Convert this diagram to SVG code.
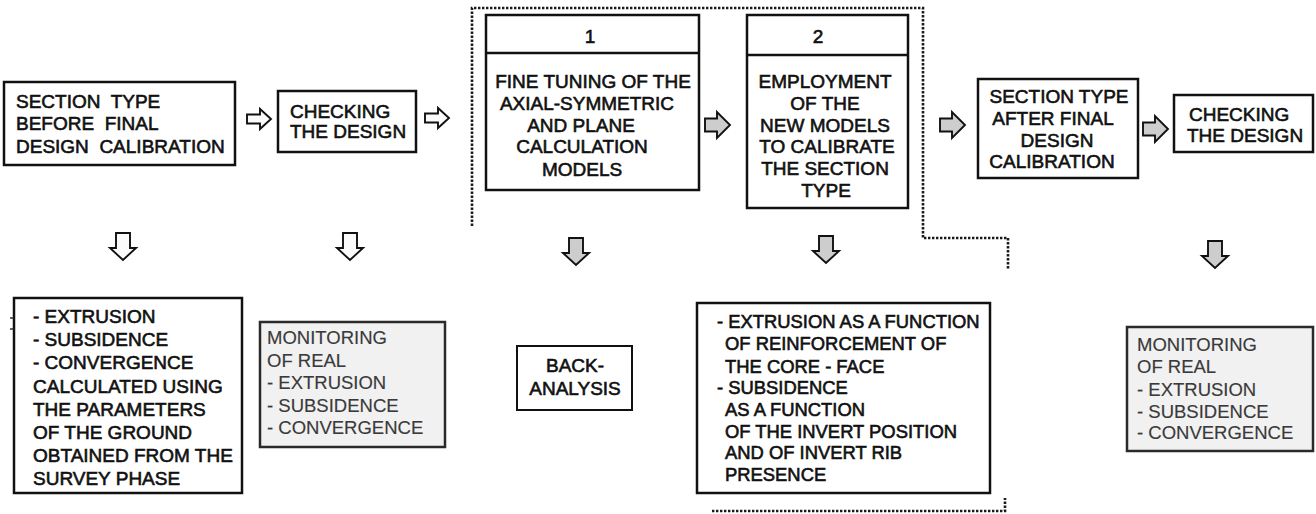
<svg xmlns="http://www.w3.org/2000/svg" xmlns:xlink="http://www.w3.org/1999/xlink" width="1316" height="514" viewBox="0 0 1316 514">
  <style>
    .box { fill: #ffffff; stroke: #111111; stroke-width: 2.5; }
    .mon { fill: #f1f1f1; stroke: #2a2a2a; stroke-width: 2.5; }
    .t { font-family: "Liberation Sans", Arial, Helvetica, sans-serif; font-size: 19px; fill: #111111; stroke: #111111; stroke-width: 0.6; }
    .t18 { font-size: 18.4px; }
    .c { text-anchor: middle; }
    .m { font-family: "Liberation Sans", Arial, Helvetica, sans-serif; font-size: 18.5px; fill: #3a3a3a; stroke: #3a3a3a; stroke-width: 0.15; }
    .dots { fill: none; stroke: #1a1a1a; stroke-width: 2.6; stroke-dasharray: 2.4 1.6; }
    .arr-w { fill: #fbfbfb; stroke: #111111; stroke-width: 1.9; stroke-linejoin: miter; }
    .arr-g { fill: #cdcdcd; stroke: #111111; stroke-width: 1.9; stroke-linejoin: miter; }
  </style>
  <defs>
    <path id="rs" d="M0,-4.5 H13 V-10 L24,0 L13,10 V4.5 H0 Z"/>
    <path id="rl" d="M0,-6.5 H12 V-13 L25,0 L12,13 V6.5 H0 Z"/>
    <path id="dn" d="M-7,0 H7 V15 H13 L0,27 L-13,15 H-7 Z"/>
  </defs>
  <rect width="1316" height="514" fill="#ffffff"/>

  <!-- connectors: block arrows and the dotted calibration boundary -->
  <g id="connectors">
    <use xlink:href="#rs" x="247" y="119" class="arr-w"/>
    <use xlink:href="#rs" x="425" y="118" class="arr-w"/>
    <use xlink:href="#rl" x="705" y="125" class="arr-g"/>
    <use xlink:href="#rl" x="940" y="125" class="arr-g"/>
    <use xlink:href="#rl" x="1143" y="129" class="arr-g"/>

    <use xlink:href="#dn" x="123" y="233" class="arr-w"/>
    <use xlink:href="#dn" x="350" y="233" class="arr-w"/>
    <use xlink:href="#dn" x="576" y="238" class="arr-g"/>
    <use xlink:href="#dn" x="826" y="236" class="arr-g"/>
    <use xlink:href="#dn" x="1215" y="241" class="arr-g"/>

    <path class="dots" d="M472,226 V8 H923 V238 H1008 V270"/>
    <path class="dots" d="M712,511 H1005 V498"/>
  </g>

  <!-- top row -->
  <g id="section-before">
    <rect class="box" x="4" y="82" width="231" height="83"/>
    <text class="t" x="16" y="108" xml:space="preserve">SECTION  TYPE</text>
    <text class="t" x="16" y="130" xml:space="preserve">BEFORE  FINAL</text>
    <text class="t" x="16" y="153" xml:space="preserve">DESIGN  CALIBRATION</text>
  </g>

  <g id="checking-1">
    <rect class="box" x="278" y="91" width="138" height="61"/>
    <text class="t" x="290" y="118">CHECKING</text>
    <text class="t" x="290" y="138">THE DESIGN</text>
  </g>

  <g id="step-1">
    <rect class="box" x="486" y="15" width="213" height="175"/>
    <line x1="486" y1="53" x2="699" y2="53" stroke="#111" stroke-width="2.5"/>
    <text class="t c" x="590" y="43">1</text>
    <text class="t c" x="593" y="88">FINE TUNING OF THE</text>
    <text class="t c" x="587" y="110">AXIAL-SYMMETRIC</text>
    <text class="t c" x="581" y="132">AND PLANE</text>
    <text class="t c" x="582" y="153">CALCULATION</text>
    <text class="t c" x="582" y="176">MODELS</text>
  </g>

  <g id="step-2">
    <rect class="box" x="747" y="15" width="161" height="193"/>
    <line x1="747" y1="55" x2="908" y2="55" stroke="#111" stroke-width="2.5"/>
    <text class="t c" x="818" y="43">2</text>
    <text class="t c" x="825" y="88">EMPLOYMENT</text>
    <text class="t c" x="825" y="110">OF THE</text>
    <text class="t c" x="825" y="132">NEW MODELS</text>
    <text class="t c" x="827" y="153">TO CALIBRATE</text>
    <text class="t c" x="825" y="175">THE SECTION</text>
    <text class="t c" x="826" y="197">TYPE</text>
  </g>

  <g id="section-after">
    <rect class="box" x="978" y="79" width="160" height="99"/>
    <text class="t c" x="1059" y="103">SECTION TYPE</text>
    <text class="t c" x="1053" y="125">AFTER FINAL</text>
    <text class="t c" x="1057" y="147">DESIGN</text>
    <text class="t c" x="1052" y="168">CALIBRATION</text>
  </g>

  <g id="checking-2">
    <rect class="box" x="1174" y="95" width="139" height="57"/>
    <text class="t" x="1189" y="121">CHECKING</text>
    <text class="t" x="1187" y="142">THE DESIGN</text>
  </g>

  <!-- bottom row -->
  <g id="calculated">
    <rect class="box" x="14" y="298" width="228" height="195"/>
    <line x1="10" y1="318" x2="14" y2="318" stroke="#222" stroke-width="1.4"/>
    <line x1="10" y1="329" x2="14" y2="329" stroke="#222" stroke-width="1.4"/>
    <text class="t" x="33" y="323">- EXTRUSION</text>
    <text class="t" x="33" y="346">- SUBSIDENCE</text>
    <text class="t" x="33" y="369">- CONVERGENCE</text>
    <text class="t" x="33" y="393">CALCULATED USING</text>
    <text class="t" x="33" y="416">THE PARAMETERS</text>
    <text class="t" x="33" y="439">OF THE GROUND</text>
    <text class="t" x="33" y="462">OBTAINED FROM THE</text>
    <text class="t" x="33" y="485">SURVEY PHASE</text>
  </g>

  <g id="monitoring-1">
    <rect class="mon" x="260" y="322" width="185" height="125"/>
    <text class="m" x="267" y="344">MONITORING</text>
    <text class="m" x="267" y="367">OF REAL</text>
    <text class="m" x="267" y="389">- EXTRUSION</text>
    <text class="m" x="267" y="412">- SUBSIDENCE</text>
    <text class="m" x="267" y="434">- CONVERGENCE</text>
  </g>

  <g id="back-analysis">
    <rect class="box" x="517" y="346" width="115" height="64" style="stroke-width:2"/>
    <text class="t c" x="575" y="372">BACK-</text>
    <text class="t c" x="575" y="395">ANALYSIS</text>
  </g>

  <g id="functions">
    <rect class="box" x="697" y="303" width="293" height="190"/>
    <text class="t t18" x="717" y="328">- EXTRUSION AS A FUNCTION</text>
    <text class="t t18" x="725" y="350">OF REINFORCEMENT OF</text>
    <text class="t t18" x="725" y="373">THE CORE - FACE</text>
    <text class="t t18" x="717" y="394">- SUBSIDENCE</text>
    <text class="t t18" x="725" y="416">AS A FUNCTION</text>
    <text class="t t18" x="725" y="438">OF THE INVERT POSITION</text>
    <text class="t t18" x="725" y="459">AND OF INVERT RIB</text>
    <text class="t t18" x="725" y="481">PRESENCE</text>
  </g>

  <g id="monitoring-2">
    <rect class="mon" x="1127" y="327" width="186" height="124"/>
    <text class="m" x="1137" y="351">MONITORING</text>
    <text class="m" x="1137" y="373">OF REAL</text>
    <text class="m" x="1137" y="396">- EXTRUSION</text>
    <text class="m" x="1137" y="418">- SUBSIDENCE</text>
    <text class="m" x="1137" y="439">- CONVERGENCE</text>
  </g>
</svg>
